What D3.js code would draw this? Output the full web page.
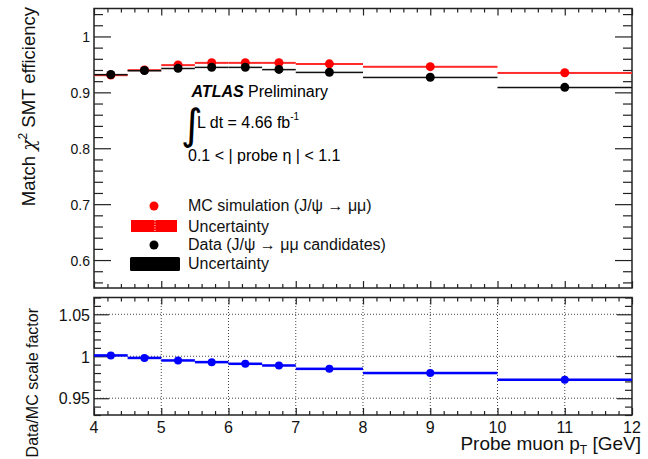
<!DOCTYPE html>
<html><head><meta charset="utf-8">
<script src="https://cdn.jsdelivr.net/npm/d3@7"></script>
<style>html,body{margin:0;padding:0;background:#fff;} svg{display:block;font-family:"Liberation Sans",Arial,Helvetica,sans-serif;}</style>
</head><body>
<svg id="c" width="648" height="459"></svg>
<script>
// ---- data ----
const binEdges = [4, 4.5, 5, 5.5, 6, 6.5, 7, 8, 10, 12];
const binCenters = [4.25, 4.75, 5.25, 5.75, 6.25, 6.75, 7.5, 9, 11];
const mcEff   = [0.931, 0.940, 0.949, 0.953, 0.953, 0.953, 0.951, 0.946, 0.935];
const mcErr   = [0.0015, 0.0015, 0.0015, 0.0015, 0.0015, 0.0015, 0.0015, 0.0015, 0.0015];
const dataEff = [0.932, 0.939, 0.943, 0.945, 0.945, 0.941, 0.936, 0.927, 0.909];
const dataErr = [0.001, 0.001, 0.001, 0.001, 0.001, 0.001, 0.001, 0.001, 0.001];
const scaleFactor = [1.001, 0.998, 0.995, 0.993, 0.991, 0.989, 0.985, 0.980, 0.972];
const sfErr = [0.0015, 0.0015, 0.0015, 0.0015, 0.0015, 0.0015, 0.0015, 0.0015, 0.0015];
const xTicks = [4, 5, 6, 7, 8, 9, 10, 11, 12];
const xTickLabels = ["4", "5", "6", "7", "8", "9", "10", "11", "12"];
const topYTicks = [0.6, 0.7, 0.8, 0.9, 1.0];
const topYTickLabels = ["0.6", "0.7", "0.8", "0.9", "1"];
const botYTicks = [0.95, 1.0, 1.05];
const botYTickLabels = ["0.95", "1", "1.05"];
const legendLabels = ["MC simulation (J/\u03C8 \u2192 \u03BC\u03BC)", "Uncertainty", "Data (J/\u03C8 \u2192 \u03BC\u03BC candidates)", "Uncertainty"];

// ---- layout ----
const svg = d3.select("#c");
const X0 = 94, X1 = 632;
const x = d3.scaleLinear().domain([4, 12]).range([X0, X1]);
const yTop = d3.scaleLinear().domain([0.55, 1.05]).range([288, 8.5]);
const yBot = d3.scaleLinear().domain([0.93, 1.07]).range([415, 297.5]);
const frameColor = "#222";

const xMinor = d3.range(4, 12.001, 0.2).filter(v => Math.abs(v - Math.round(v)) > 1e-6);
const topYMinor = d3.range(0.56, 1.0401, 0.02).filter(v => !topYTicks.some(t => Math.abs(t - v) < 1e-6));
const botYMinor = d3.range(0.93, 1.0701, 0.01).filter(v => !botYTicks.some(t => Math.abs(t - v) < 1e-6));

function styleAxis(g) {
  g.select(".domain").remove();
  g.selectAll(".tick line").attr("stroke", frameColor).attr("stroke-width", 1.2);
  g.selectAll("text").attr("fill", "#111");
}

function panel(y, yMajor, yLabels, yMinor, majorY, minorY, majorX, minorX, labelSize) {
  const [yb, yt] = y.range();
  svg.append("g").attr("transform", `translate(0,${yb})`)
    .call(d3.axisBottom(x).tickValues(xTicks).tickSize(-majorX).tickFormat(""))
    .call(styleAxis);
  svg.append("g").attr("transform", `translate(0,${yb})`)
    .call(d3.axisBottom(x).tickValues(xMinor).tickSize(-minorX).tickFormat(""))
    .call(styleAxis);
  svg.append("g").attr("transform", `translate(0,${yt})`)
    .call(d3.axisTop(x).tickValues(xTicks).tickSize(-majorX).tickFormat(""))
    .call(styleAxis);
  svg.append("g").attr("transform", `translate(0,${yt})`)
    .call(d3.axisTop(x).tickValues(xMinor).tickSize(-minorX).tickFormat(""))
    .call(styleAxis);
  svg.append("g").attr("transform", `translate(${X0},0)`)
    .call(d3.axisLeft(y).tickValues(yMajor).tickSize(-majorY).tickPadding(4)
      .tickFormat((d, i) => yLabels[i]))
    .call(styleAxis)
    .call(g => g.selectAll("text").attr("font-size", labelSize).attr("dy", "0.36em"));
  svg.append("g").attr("transform", `translate(${X0},0)`)
    .call(d3.axisLeft(y).tickValues(yMinor).tickSize(-minorY).tickFormat(""))
    .call(styleAxis);
  svg.append("g").attr("transform", `translate(${X1},0)`)
    .call(d3.axisLeft(y).tickValues(yMajor).tickSize(majorY).tickFormat(""))
    .call(styleAxis);
  svg.append("g").attr("transform", `translate(${X1},0)`)
    .call(d3.axisLeft(y).tickValues(yMinor).tickSize(minorY).tickFormat(""))
    .call(styleAxis);
  svg.append("rect").attr("x", X0).attr("y", yt).attr("width", X1 - X0).attr("height", yb - yt)
    .attr("fill", "none").attr("stroke", frameColor).attr("stroke-width", 1.5);
}

// ---- bottom panel grid ----
const grid = svg.append("g").attr("stroke", "#444").attr("stroke-width", 1).attr("stroke-dasharray", "1,2");
grid.selectAll("line.gx").data(xTicks.slice(1, -1)).join("line")
  .attr("x1", d => x(d)).attr("x2", d => x(d)).attr("y1", yBot(0.93)).attr("y2", yBot(1.07));
grid.selectAll("line.gy").data(botYTicks).join("line")
  .attr("x1", X0).attr("x2", X1).attr("y1", d => yBot(d)).attr("y2", d => yBot(d));

panel(yTop, topYTicks, topYTickLabels, topYMinor, 17, 9, 7, 4, 14);
panel(yBot, botYTicks, botYTickLabels, botYMinor, 15, 7, 7, 4, 16);

svg.append("g").selectAll("text").data(xTicks).join("text")
  .attr("x", d => x(d)).attr("y", 433).attr("text-anchor", "middle")
  .attr("font-size", 16).attr("fill", "#111").text((d, i) => xTickLabels[i]);

// ---- top panel data ----
const bins = binCenters.map((c, i) => ({ i, lo: binEdges[i], hi: binEdges[i + 1], c }));
const gTop = svg.append("g");
gTop.selectAll("rect.mc").data(bins).join("rect")
  .attr("x", d => x(d.lo)).attr("width", d => x(d.hi) - x(d.lo))
  .attr("y", d => yTop(mcEff[d.i] + mcErr[d.i])).attr("height", d => Math.max(2, yTop(mcEff[d.i] - mcErr[d.i]) - yTop(mcEff[d.i] + mcErr[d.i])))
  .attr("fill", "#ff2a2a");
gTop.selectAll("rect.da").data(bins).join("rect")
  .attr("x", d => x(d.lo)).attr("width", d => x(d.hi) - x(d.lo))
  .attr("y", d => yTop(dataEff[d.i] + dataErr[d.i])).attr("height", d => Math.max(1.5, yTop(dataEff[d.i] - dataErr[d.i]) - yTop(dataEff[d.i] + dataErr[d.i])))
  .attr("fill", "#111");
gTop.selectAll("circle.mc").data(bins).join("circle")
  .attr("cx", d => x(d.c)).attr("cy", d => yTop(mcEff[d.i])).attr("r", 4.5).attr("fill", "#ff0000");
gTop.selectAll("circle.da").data(bins).join("circle")
  .attr("cx", d => x(d.c)).attr("cy", d => yTop(dataEff[d.i])).attr("r", 4.5).attr("fill", "#000");

// ---- bottom panel data ----
const gBot = svg.append("g");
gBot.selectAll("rect").data(bins).join("rect")
  .attr("x", d => x(d.lo)).attr("width", d => x(d.hi) - x(d.lo))
  .attr("y", d => yBot(scaleFactor[d.i] + sfErr[d.i])).attr("height", d => Math.max(2.5, yBot(scaleFactor[d.i] - sfErr[d.i]) - yBot(scaleFactor[d.i] + sfErr[d.i])))
  .attr("fill", "#0000ff");
gBot.selectAll("circle").data(bins).join("circle")
  .attr("cx", d => x(d.c)).attr("cy", d => yBot(scaleFactor[d.i])).attr("r", 4).attr("fill", "#0000ff");

// ---- axis titles ----
const t1 = svg.append("text").attr("transform", "translate(35,7) rotate(-90)")
  .attr("text-anchor", "end").attr("font-size", 18.5).attr("fill", "#111");
t1.append("tspan").text("Match ");
t1.append("tspan").attr("font-style", "italic").attr("font-family", "DejaVu Serif, serif").text("\u03C7");
t1.append("tspan").attr("font-size", 12).attr("dy", -8).text("2");
t1.append("tspan").attr("dy", 8).text(" SMT efficiency");

svg.append("text").attr("transform", "translate(38,308) rotate(-90)")
  .attr("text-anchor", "end").attr("font-size", 16).attr("fill", "#111").text("Data/MC scale factor");

const xt = svg.append("text").attr("x", 641).attr("y", 450).attr("text-anchor", "end")
  .attr("font-size", 19).attr("fill", "#111");
xt.append("tspan").text("Probe muon p");
xt.append("tspan").attr("font-size", 12).attr("dy", 4).text("T");
xt.append("tspan").attr("dy", -4).text(" [GeV]");

// ---- ATLAS labels ----
const at = svg.append("text").attr("x", 191.5).attr("y", 97).attr("font-size", 16).attr("fill", "#000");
at.append("tspan").attr("font-weight", "bold").attr("font-style", "italic").text("ATLAS");
at.append("tspan").attr("x", 248).text("Preliminary");

svg.append("text").attr("x", 181).attr("y", 139).attr("font-size", 42)
  .attr("font-family", "DejaVu Sans, sans-serif").attr("fill", "#000").text("\u222B");
const lum = svg.append("text").attr("x", 197).attr("y", 128).attr("font-size", 16).attr("fill", "#000");
lum.append("tspan").text("L dt = 4.66 fb");
lum.append("tspan").attr("font-size", 10).attr("dy", -8).text("-1");

svg.append("text").attr("x", 188).attr("y", 161).attr("font-size", 16).attr("fill", "#000")
  .text("0.1 < | probe \u03B7 | < 1.1");

// ---- legend ----
const lg = svg.append("g");
lg.append("circle").attr("cx", 154).attr("cy", 206).attr("r", 4.5).attr("fill", "#ff0000");
lg.append("rect").attr("x", 131).attr("y", 220).attr("width", 46).attr("height", 12).attr("fill", "#ff0000");
lg.append("line").attr("x1", 155).attr("x2", 155).attr("y1", 220).attr("y2", 232)
  .attr("stroke", "#fff").attr("stroke-width", 1).attr("stroke-dasharray", "1,1.5");
lg.append("circle").attr("cx", 154).attr("cy", 245).attr("r", 4.5).attr("fill", "#000");
lg.append("rect").attr("x", 130).attr("y", 257).attr("width", 50).attr("height", 14).attr("rx", 1.5).attr("fill", "#000");
const legY = [210.5, 232, 250, 268.5];
lg.selectAll("text").data(legendLabels).join("text")
  .attr("x", 188).attr("y", (d, i) => legY[i]).attr("font-size", 16).attr("fill", "#111").text(d => d);
</script>
</body></html>
